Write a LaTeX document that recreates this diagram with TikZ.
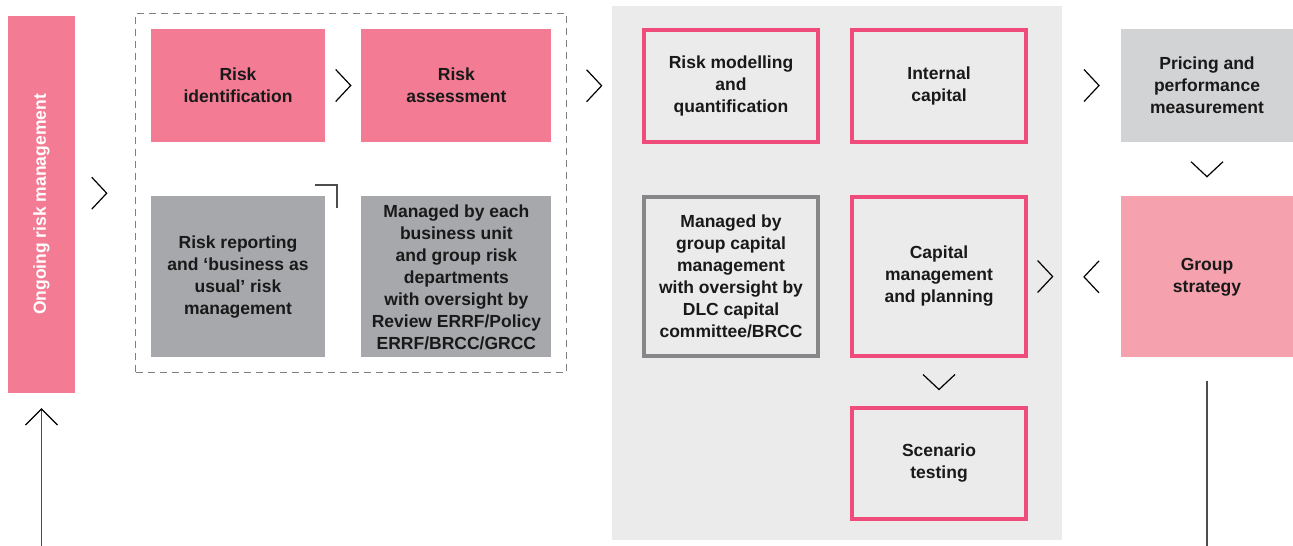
\documentclass[tikz,border=0pt]{standalone}
\usepackage{fontspec}
\setmainfont{Liberation Sans}
\usepackage{graphicx}
\usetikzlibrary{positioning,calc,fit,arrows.meta}

\definecolor{riskpink}{HTML}{F37B93}
\definecolor{strategypink}{HTML}{F5A1AE}
\definecolor{boxgrey}{HTML}{A7A8AB}
\definecolor{pricegrey}{HTML}{D2D3D5}
\definecolor{panelgrey}{HTML}{EBEBEB}
\definecolor{framered}{HTML}{EF4C7B}
\definecolor{framegrey}{HTML}{87878A}
\definecolor{linegrey}{HTML}{4D4D4F}
\definecolor{dashgrey}{HTML}{808080}

\begin{document}
\begin{tikzpicture}[
    x=1pt, y=-1pt,
    every node/.style={align=center, inner sep=0pt, text=black!90, font=\fontsize{17.5}{22}\selectfont\bfseries},
    pinkbox/.style={fill=riskpink, minimum width=174pt, minimum height=113pt},
    greybox/.style={fill=boxgrey, minimum width=174pt, minimum height=161pt},
    redframe/.style={draw=framered, line width=4pt, fill=panelgrey, minimum width=174pt, minimum height=112pt},
    greyframe/.style={draw=framegrey, line width=4pt, fill=panelgrey, minimum width=174pt, minimum height=159pt},
    dashbox/.style={draw=dashgrey, line width=1.2pt, dash pattern=on 7pt off 5pt},
    conn/.style={draw=linegrey, line width=1.8pt},
    pics/chevron/.style={code={\draw[line width=1.2pt] (-7.5,-16) -- (7.5,0) -- (-7.5,16);}}
]
\useasboundingbox (0,0) rectangle (1293,546);

% Ongoing risk management
\node[fill=riskpink, minimum width=67pt, minimum height=377pt, text=white] (ongoing) at (41.5,204.5) {\rotatebox{90}{Ongoing risk management}};

% Risk process
\node[pinkbox] (riskid) at (238,85.5) {Risk\\identification};
\node[pinkbox, minimum width=190pt, right=36pt of riskid] (riskas) {Risk\\assessment};
\node[greybox, below=54pt of riskid] (report) {Risk reporting\\and ‘business as\\usual’ risk\\management};
\node[greybox, minimum width=190pt, below=54pt of riskas] (managed) {Managed by each\\business unit\\and group risk\\departments\\with oversight by\\Review ERRF/Policy\\ERRF/BRCC/GRCC};
\node[dashbox, fit=(riskid)(managed), inner sep=15pt] (dash) {};

% Capital panel
\node[fill=panelgrey, minimum width=450pt, minimum height=534pt] (panel) at (837,273) {};
\node[redframe] (model) at (731,86) {Risk modelling\\and\\quantification};
\node[redframe, right=30pt of model] (intcap) {Internal\\capital};
\node[greyframe, below=51pt of model] (groupcap) {Managed by\\group capital\\management\\with oversight by\\DLC capital\\committee/BRCC};
\node[redframe, minimum height=159pt, below=51pt of intcap] (capmgmt) {Capital\\management\\and planning};
\node[redframe, minimum height=111pt, below=48pt of capmgmt] (scen) {Scenario\\testing};

% Strategy
\node[fill=pricegrey, minimum width=172pt, minimum height=113pt] (pricing) at (1207,85.5) {Pricing and\\performance\\measurement};
\node[fill=strategypink, minimum width=172pt, minimum height=161pt, below=54pt of pricing] (strategy) {Group\\strategy};

% Chevrons
\pic at ($(ongoing.east |- dash.west)!0.4!(dash.west)$) {chevron};
\pic at ($(riskid.east)!0.5!(riskas.west)$) {chevron};
\pic at ($(riskas.east)!0.47!(model.west)$) {chevron};
\pic at ($(panel.east |- pricing.west)!0.5!(pricing.west)$) {chevron};
\pic[rotate=-90] at ($(pricing.south)!0.5!(strategy.north)$) {chevron};
\pic at ($(capmgmt.east)!0.5!(panel.east |- capmgmt.east)$) {chevron};
\pic[rotate=180] at ($(panel.east |- strategy.west)!0.5!(strategy.west)$) {chevron};
\pic[rotate=-90] at ($(capmgmt.south)!0.5!(scen.north)$) {chevron};

% Corner mark
\draw[line width=1.5pt, draw=linegrey] ($(report.north east)+(-10,-11)$) -- ++(22,0) -- ++(0,23);

% Loop lines
\coordinate (loopin) at (41.5,546);
\coordinate (loopout) at (1207,546);
\draw[conn, -{Straight Barb[length=16pt, width=32pt, line width=1.2pt, color=black]}, shorten >=15pt] (loopin) -- (ongoing.south);
\draw[conn, shorten <=23pt] (strategy.south) -- (loopout);

\end{tikzpicture}
\end{document}
